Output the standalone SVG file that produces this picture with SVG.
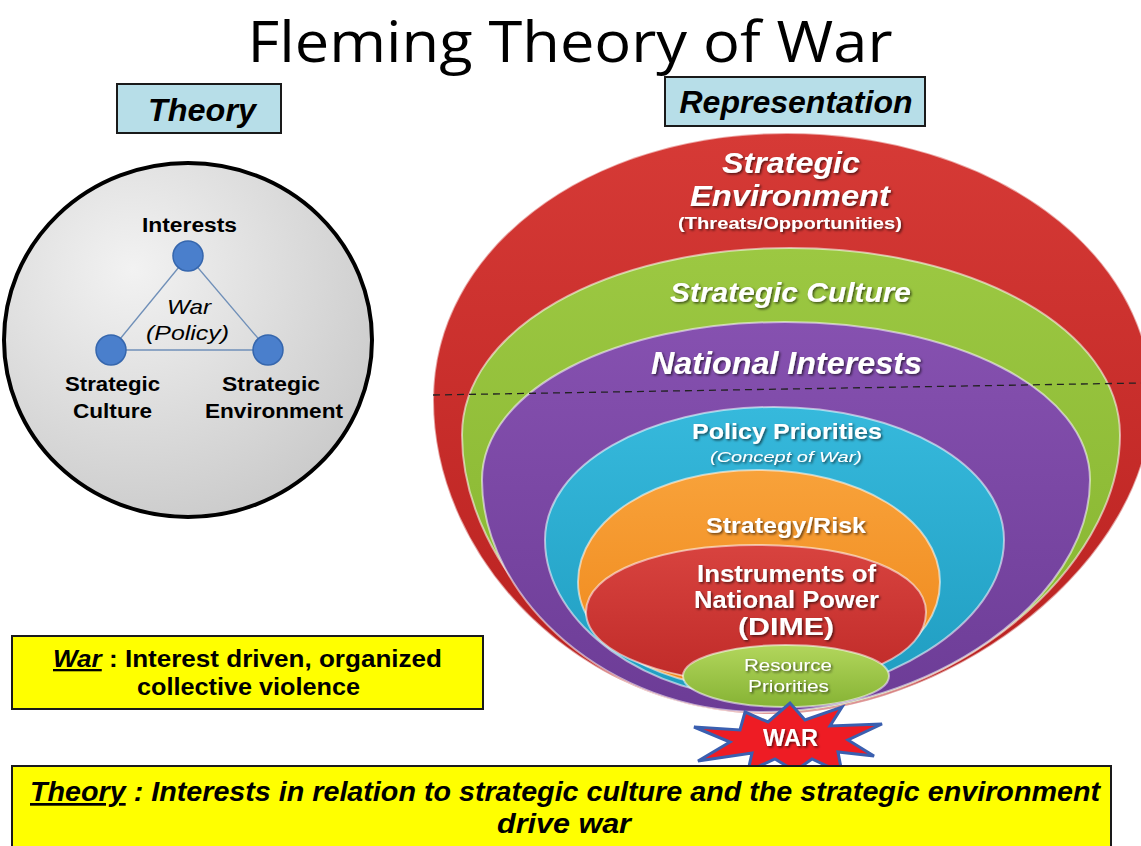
<svg xmlns="http://www.w3.org/2000/svg" width="1141" height="846" viewBox="0 0 1141 846">
<defs>
<style>
.lbl{font-family:"Liberation Sans",Arial,sans-serif;font-weight:bold;text-anchor:middle;fill:#000}
.it{font-weight:normal;font-style:italic}
.wt{font-family:"Liberation Sans",Arial,sans-serif;font-weight:bold;text-anchor:middle;fill:#fff;filter:url(#sh)}
.nw{font-weight:normal}
.band{stroke:#ffffff;stroke-opacity:0.55;stroke-width:2}
.node{fill:#4a7fcc;stroke:#3566ad;stroke-width:1.5}
.edge{stroke:#6f8fb8;stroke-width:1.3;fill:none}
.hdr{fill:#b7dee8;stroke:#1a1a1a;stroke-width:2}
.ybox{fill:#ffff00;stroke:#1a1a1a;stroke-width:2}
</style>
<filter id="sh" x="-10%" y="-30%" width="120%" height="160%">
<feDropShadow dx="1.5" dy="1.5" stdDeviation="0.8" flood-color="#000" flood-opacity="0.6"/>
</filter>
<radialGradient id="gcirc" cx="35%" cy="30%" r="75%">
<stop offset="0" stop-color="#f2f2f2"/><stop offset="1" stop-color="#cbcbcb"/>
</radialGradient>
<linearGradient id="gred" x1="0" y1="0" x2="0" y2="1"><stop offset="0" stop-color="#d63a36"/><stop offset="1" stop-color="#b8201f"/></linearGradient>
<linearGradient id="ggreen" x1="0" y1="0" x2="0" y2="1"><stop offset="0" stop-color="#9cc842"/><stop offset="1" stop-color="#84b22e"/></linearGradient>
<linearGradient id="gpurp" x1="0" y1="0" x2="0" y2="1"><stop offset="0" stop-color="#8651b0"/><stop offset="1" stop-color="#6c3c96"/></linearGradient>
<linearGradient id="gcyan" x1="0" y1="0" x2="0" y2="1"><stop offset="0" stop-color="#36b9dc"/><stop offset="1" stop-color="#1f9cc0"/></linearGradient>
<linearGradient id="gor" x1="0" y1="0" x2="0" y2="1"><stop offset="0" stop-color="#f8a23a"/><stop offset="1" stop-color="#ee8518"/></linearGradient>
<linearGradient id="gred2" x1="0" y1="0" x2="0" y2="1"><stop offset="0" stop-color="#d8433f"/><stop offset="1" stop-color="#bf2a28"/></linearGradient>
<linearGradient id="gsg" x1="0" y1="0" x2="0" y2="1"><stop offset="0" stop-color="#b2d65c"/><stop offset="1" stop-color="#86b334"/></linearGradient>
</defs>
<rect width="1141" height="846" fill="#ffffff"/>

<text x="570" y="62" font-family="Open Sans,Liberation Sans,sans-serif" font-size="56" text-anchor="middle" fill="#000" textLength="645" lengthAdjust="spacingAndGlyphs">Fleming Theory of War</text>

<g id="theory-header">
<rect class="hdr" x="117" y="84" width="164" height="49"/>
<text class="lbl" x="202" y="121" font-size="32" font-style="italic" textLength="108" lengthAdjust="spacingAndGlyphs">Theory</text>
</g>
<g id="representation-header">
<rect class="hdr" x="665" y="77" width="260" height="49"/>
<text class="lbl" x="796" y="113" font-size="32" font-style="italic" textLength="233" lengthAdjust="spacingAndGlyphs">Representation</text>
</g>

<g id="theory-circle">
<ellipse cx="188" cy="340" rx="184" ry="177" fill="url(#gcirc)" stroke="#000" stroke-width="4"/>
</g>

<g id="connectors">
<line class="edge" x1="188" y1="256" x2="111" y2="350"/>
<line class="edge" x1="188" y1="256" x2="268" y2="350"/>
<line class="edge" x1="111" y1="350" x2="268" y2="350"/>
</g>

<g id="node-interests">
<circle class="node" cx="188" cy="256" r="15"/>
<text class="lbl" x="189.5" y="232" font-size="20" textLength="95" lengthAdjust="spacingAndGlyphs">Interests</text>
</g>
<g id="node-war-policy">
<text class="lbl it" x="189" y="314" font-size="21" textLength="44" lengthAdjust="spacingAndGlyphs">War</text>
<text class="lbl it" x="187.5" y="340" font-size="21" textLength="83" lengthAdjust="spacingAndGlyphs">(Policy)</text>
</g>
<g id="node-strategic-culture">
<circle class="node" cx="111" cy="350" r="15"/>
<text class="lbl" x="112.5" y="391" font-size="20" textLength="95" lengthAdjust="spacingAndGlyphs">Strategic</text>
<text class="lbl" x="112.5" y="418" font-size="20" textLength="79" lengthAdjust="spacingAndGlyphs">Culture</text>
</g>
<g id="node-strategic-environment">
<circle class="node" cx="268" cy="350" r="15"/>
<text class="lbl" x="271" y="391" font-size="20" textLength="98" lengthAdjust="spacingAndGlyphs">Strategic</text>
<text class="lbl" x="274" y="418" font-size="20" textLength="138" lengthAdjust="spacingAndGlyphs">Environment</text>
</g>

<g id="band-strategic-environment">
<path class="band" fill="url(#gred)" d="M787,133 C990,133 1152,250 1152,400 C1152,560 955,714 770,714 C580,714 433,560 433,400 C433,250 585,133 787,133 Z"/>
</g>
<g id="band-strategic-culture">
<path class="band" fill="url(#ggreen)" d="M790,248 C975,248 1120,330 1120,435 C1120,570 950,712 770,712 C600,712 462,570 462,435 C462,330 605,248 790,248 Z"/>
</g>
<g id="band-national-interests">
<path class="band" fill="url(#gpurp)" d="M785,322 C955,322 1090,390 1090,480 C1090,600 930,712 760,712 C610,712 482,600 482,480 C482,390 615,322 785,322 Z"/>
</g>
<g id="band-policy-priorities">
<path class="band" fill="url(#gcyan)" d="M774,407 C900,407 1004,465 1004,540 C1004,625 880,698 762,698 C650,698 545,625 545,540 C545,465 648,407 774,407 Z"/>
</g>
<g id="band-strategy-risk">
<path class="band" fill="url(#gor)" d="M757,470 C860,470 940,520 940,582 C940,645 860,690 762,690 C665,690 578,645 578,582 C578,520 655,470 757,470 Z"/>
</g>
<g id="band-instruments">
<path class="band" fill="url(#gred2)" d="M757,545 C855,545 926,572 926,612 C926,655 860,684 770,684 C675,684 586,655 586,612 C586,572 660,545 757,545 Z"/>
</g>
<g id="band-resource-priorities">
<ellipse class="band" cx="786" cy="676" rx="103" ry="31" fill="url(#gsg)"/>
</g>

<g id="dashed-divider">
<line x1="433" y1="395" x2="1141" y2="383" stroke="#222" stroke-width="1.3" stroke-dasharray="7,5"/>
</g>

<g id="labels-representation">
<text class="wt" x="791" y="173" font-size="29" font-style="italic" textLength="138" lengthAdjust="spacingAndGlyphs">Strategic</text>
<text class="wt" x="790" y="206" font-size="29" font-style="italic" textLength="200" lengthAdjust="spacingAndGlyphs">Environment</text>
<text class="wt" x="790" y="229" font-size="17" textLength="224" lengthAdjust="spacingAndGlyphs">(Threats/Opportunities)</text>
<text class="wt" x="790.5" y="302" font-size="27" font-style="italic" textLength="241" lengthAdjust="spacingAndGlyphs">Strategic Culture</text>
<text class="wt" x="786.5" y="374" font-size="31" font-style="italic" textLength="271" lengthAdjust="spacingAndGlyphs">National Interests</text>
<text class="wt" x="787" y="439" font-size="22" textLength="190" lengthAdjust="spacingAndGlyphs">Policy Priorities</text>
<text class="wt nw" x="786" y="462" font-size="15" font-style="italic" textLength="152" lengthAdjust="spacingAndGlyphs">(Concept of War)</text>
<text class="wt" x="786" y="533" font-size="22" textLength="160" lengthAdjust="spacingAndGlyphs">Strategy/Risk</text>
<text class="wt" x="786.5" y="582" font-size="23" textLength="179" lengthAdjust="spacingAndGlyphs">Instruments of</text>
<text class="wt" x="786.5" y="608" font-size="23" textLength="185" lengthAdjust="spacingAndGlyphs">National Power</text>
<text class="wt" x="786" y="635" font-size="23" textLength="96" lengthAdjust="spacingAndGlyphs">(DIME)</text>
<text class="wt nw" x="788" y="671" font-size="16" textLength="88" lengthAdjust="spacingAndGlyphs">Resource</text>
<text class="wt nw" x="788.5" y="692" font-size="16" textLength="81" lengthAdjust="spacingAndGlyphs">Priorities</text>
</g>

<g id="node-war-star">
<polygon points="745,712 768,722 790,703 805,720 842,707 830,726 882,724 848,740 874,756 838,752 842,773 812,759 795,771 775,759 748,771 752,753 698,761 730,742 694,727 740,730" fill="#ee1c24" stroke="#3a5fb0" stroke-width="3" stroke-linejoin="miter"/>
<text class="wt" x="790.5" y="746" font-size="23" textLength="55" lengthAdjust="spacingAndGlyphs">WAR</text>
</g>

<g id="war-definition">
<rect class="ybox" x="12" y="636" width="471" height="73"/>
<text class="lbl" x="247.5" y="667" font-size="23" textLength="389" lengthAdjust="spacingAndGlyphs"><tspan font-style="italic" text-decoration="underline">War</tspan> :  Interest driven, organized</text>
<text class="lbl" x="248.5" y="695" font-size="23" textLength="223" lengthAdjust="spacingAndGlyphs">collective violence</text>
</g>

<g id="theory-definition">
<rect class="ybox" x="12" y="766" width="1099" height="84"/>
<text class="lbl" x="565" y="801" font-size="27" font-style="italic" textLength="1070" lengthAdjust="spacingAndGlyphs"><tspan text-decoration="underline">Theory</tspan> : Interests in relation to strategic culture and the strategic environment</text>
<text class="lbl" x="564" y="833" font-size="27" font-style="italic" textLength="134" lengthAdjust="spacingAndGlyphs">drive war</text>
</g>
</svg>
